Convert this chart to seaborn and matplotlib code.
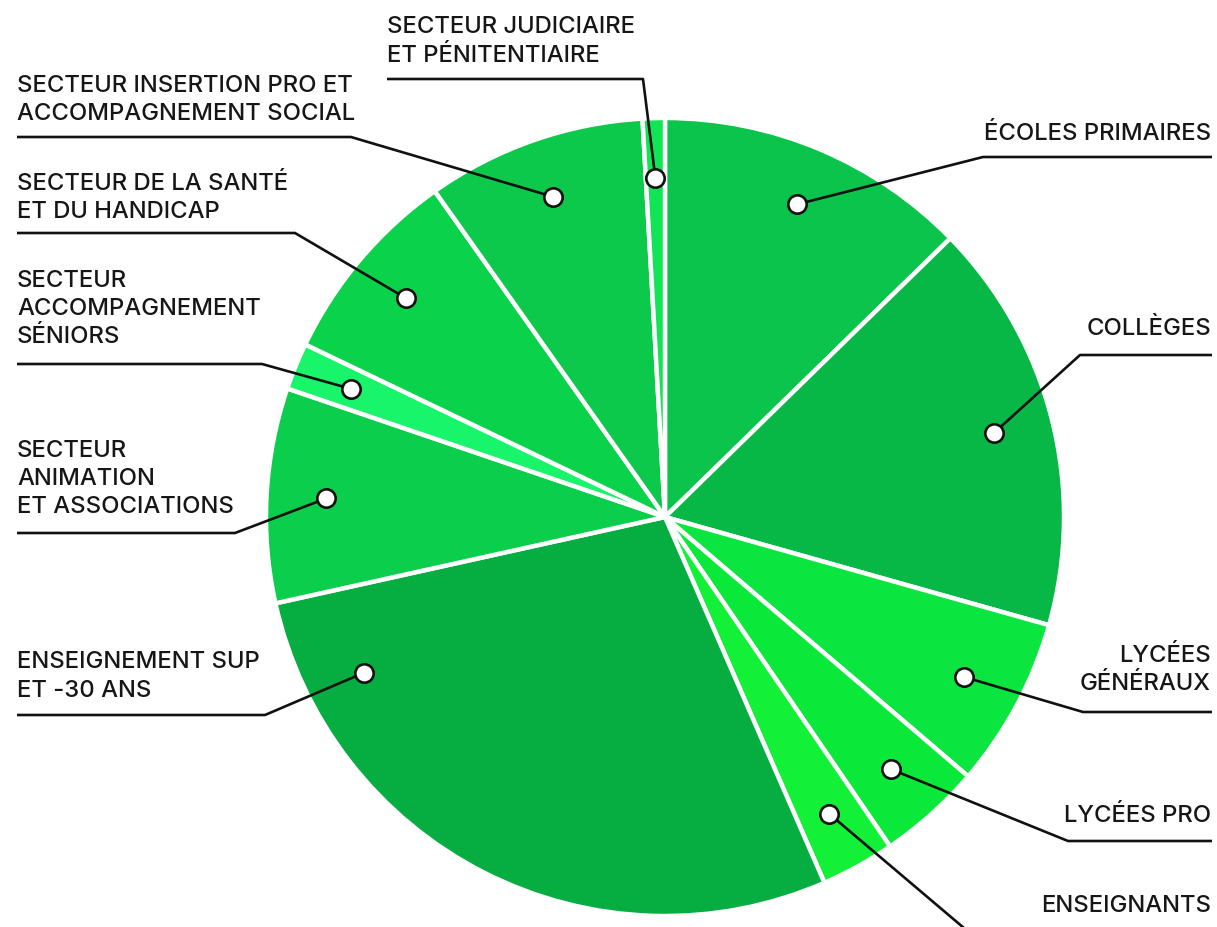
import matplotlib
matplotlib.use("Agg")
import matplotlib.pyplot as plt
import numpy as np
import seaborn as sns

# ---- data (clockwise from 12 o'clock) ----
categories = [
    "ÉCOLES PRIMAIRES",
    "COLLÈGES",
    "LYCÉES\nGÉNÉRAUX",
    "LYCÉES PRO",
    "ENSEIGNANTS",
    "ENSEIGNEMENT SUP\nET -30 ANS",
    "SECTEUR\nANIMATION\nET ASSOCIATIONS",
    "SECTEUR\nACCOMPAGNEMENT\nSÉNIORS",
    "SECTEUR DE LA SANTÉ\nET DU HANDICAP",
    "SECTEUR INSERTION PRO ET\nACCOMPAGNEMENT SOCIAL",
    "SECTEUR JUDICIAIRE\nET PÉNITENTIAIRE",
]
shares = [12.7, 16.7, 6.9, 4.2, 3.0, 28.1, 8.7, 1.9, 8.1, 8.9, 0.9]
colors = ["#0BC44B", "#07B847", "#0AE63F", "#0AE93A", "#12F038", "#06AD41",
          "#0BCE4D", "#19F56A", "#0BD24B", "#0CC94C", "#10E555"]

# ---- layout (pixel coordinates, y from top) ----
# side, text x, line baselines, leader y, elbow x, line end x, angular fraction of dot
layout = [
    ("right", 1211, [140], 157, 983, 1212, 0.5),
    ("right", 1211, [335], 355, 1080, 1212, 0.5),
    ("right", 1211, [662, 690], 712, 1083, 1212, 0.5),
    ("right", 1211, [822], 841, 1068, 1212, 0.5),
    ("right", 1211, [912], 945, 984, 1212, 0.5),
    ("left", 17, [668, 697], 715, 265, 17, 0.853),
    ("left", 17, [457, 485, 513], 533, 235, 17, 0.5),
    ("left", 17, [287, 315, 343], 364, 262, 17, 0.5),
    ("left", 17, [190, 218], 233, 295, 17, 0.5),
    ("left", 17, [92, 120], 137, 351, 17, 0.5),
    ("left", 387, [33, 62], 79, 643, 387, 0.5),
]

sns.set_theme(style="white")
plt.rcParams['font.family'] = ['Inter', 'DejaVu Sans']

W, H = 1217, 927
fig = plt.figure(figsize=(W / 100, H / 100), dpi=100)
ax = fig.add_axes([0, 0, 1, 1])

cx, cy, R = 665, H - 517, 399
wedges, _ = ax.pie(shares, colors=colors, startangle=90, counterclock=False,
                   center=(cx, cy), radius=R,
                   wedgeprops=dict(edgecolor="white", linewidth=3.2))
ax.set_xlim(0, W)
ax.set_ylim(0, H)
ax.set_aspect("equal")
ax.axis("off")

line_kw = dict(color="#111111", lw=1.9, solid_capstyle="butt", zorder=5)
for w, lab, (side, tx, bases, ly, ex, endx, frac) in zip(wedges, categories, layout):
    t1, t2 = w.theta1, w.theta2
    ang = np.deg2rad(t2 - frac * (t2 - t1))
    rr = 0.85 * R
    dx, dy = cx + rr * np.cos(ang), cy + rr * np.sin(ang)
    ax.plot([endx, ex, dx], [H - ly, H - ly, dy], **line_kw)
    ax.scatter([dx], [dy], s=175, facecolor="white", edgecolor="#111111",
               linewidth=1.9, zorder=6)
    for txt, b in zip(lab.split("\n"), bases):
        ax.text(tx, H - b, txt, ha="right" if side == "right" else "left",
                va="baseline", fontsize=17.2, fontweight="medium",
                color="#161616")

fig.savefig("out.png", dpi=100, facecolor="white")
